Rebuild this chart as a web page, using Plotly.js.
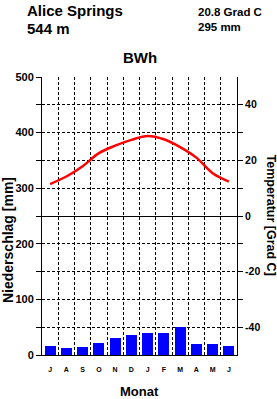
<!DOCTYPE html>
<html>
<head>
<meta charset="utf-8">
<script src="https://cdn.plot.ly/plotly-3.0.1.min.js"></script>
<style>html,body{margin:0;padding:0;background:#fff;} #chart{width:277px;height:399px;}</style>
</head>
<body>
<div id="chart"></div>
<script>
const months = ["J","A","S","O","N","D","J","F","M","A","M","J"];
const precipitation = [16, 12, 14, 22, 30, 36, 39, 39, 50, 19, 19, 16];
const temperature = [11.5, 14.2, 17.9, 22.6, 25.3, 27.4, 28.8, 27.6, 24.8, 21.0, 15.4, 12.4];
const stationName = "Alice Springs";
const elevation = "544 m";
const meanTemp = "20.8 Grad C";
const totalPrecip = "295 mm";
const climateClass = "BWh";

const L = 42, R = 237, T = 77, B = 355;
const W = 277, H = 399;
const px = x => (x - L) / (R - L);
const py = y => (B - y) / (B - T);

const idx = months.map((m, i) => i);
const precipTicks = [0,50,100,150,200,250,300,350,400,450,500];
const precipText = precipTicks.map(v => v % 100 === 0 ? String(v) : "");
const tempTicks = [-40,-30,-20,-10,0,10,20,30,40];
const tempText = tempTicks.map(v => v % 20 === 0 ? String(v) : "");

const FONT = "Liberation Sans, Arial, Helvetica, sans-serif";
const dash = "3px,2px";

const data = [
  {type: "bar", x: idx, y: precipitation, marker: {color: "#0000ff", line: {width: 0}}, width: 0.68, yaxis: "y", hoverinfo: "skip"},
  {type: "scatter", mode: "lines", x: idx, y: temperature, yaxis: "y2", line: {color: "#ff0000", width: 2.5, shape: "spline", smoothing: 1}, hoverinfo: "skip"}
];

const ann = (text, x, y, size, opts) => Object.assign({
  text: text, xref: "paper", yref: "paper", x: px(x), y: py(y), showarrow: false,
  font: {family: FONT, size: size, color: "#000", weight: "bold"}
}, opts || {});

const layout = {
  width: W, height: H,
  margin: {l: L, r: W - R, t: T, b: H - B, pad: 0},
  paper_bgcolor: "#fff", plot_bgcolor: "#fff",
  showlegend: false,
  bargap: 0,
  xaxis: {
    range: [-0.5, 11.5], tickmode: "array", tickvals: idx, ticktext: months,
    ticks: "", showgrid: false, zeroline: false, showline: true, linecolor: "#000", linewidth: 1,
    tickfont: {family: FONT, size: 7, color: "#000", weight: "bold"}, ticklabelstandoff: 8,
    minor: {tickmode: "linear", tick0: 0.5, dtick: 1, showgrid: true, gridcolor: "#000", gridwidth: 1, griddash: dash, ticks: ""},
    fixedrange: true
  },
  yaxis: {
    range: [0, 500], tickmode: "array", tickvals: precipTicks, ticktext: precipText,
    ticks: "outside", ticklen: 5, tickcolor: "#000", tickwidth: 1,
    showgrid: true, gridcolor: "#000", gridwidth: 1, griddash: dash,
    zeroline: false, showline: true, linecolor: "#000", linewidth: 1,
    tickfont: {family: FONT, size: 11, color: "#000", weight: "bold"},
    fixedrange: true
  },
  yaxis2: {
    overlaying: "y", side: "right", range: [-50, 50], tickmode: "array", tickvals: tempTicks, ticktext: tempText,
    ticks: "outside", ticklen: 5, tickcolor: "#000", tickwidth: 1,
    showgrid: false, zeroline: true, zerolinecolor: "#000", zerolinewidth: 1,
    showline: true, linecolor: "#000", linewidth: 1,
    tickfont: {family: FONT, size: 10.5, color: "#000", weight: "bold"},
    fixedrange: true
  },
  annotations: [
    ann(stationName, 25, 0, 15, {xanchor: "left", yanchor: "top"}),
    ann(elevation, 25, 18, 15, {xanchor: "left", yanchor: "top"}),
    ann(meanTemp, 196, 4, 11.5, {xanchor: "left", yanchor: "top"}),
    ann(totalPrecip, 196, 19, 11.5, {xanchor: "left", yanchor: "top"}),
    ann(climateClass, 139.5, 58, 15, {xanchor: "center", yanchor: "middle"}),
    ann("Niederschlag [mm]", 8, 240, 14, {xanchor: "center", yanchor: "middle", textangle: -90}),
    ann("Temperatur [Grad C]", 270.5, 215, 12.5, {xanchor: "center", yanchor: "middle", textangle: 90}),
    ann("Monat", 139.5, 391, 13, {xanchor: "center", yanchor: "middle"})
  ]
};

Plotly.newPlot("chart", data, layout, {staticPlot: true, displayModeBar: false});
</script>
</body>
</html>
